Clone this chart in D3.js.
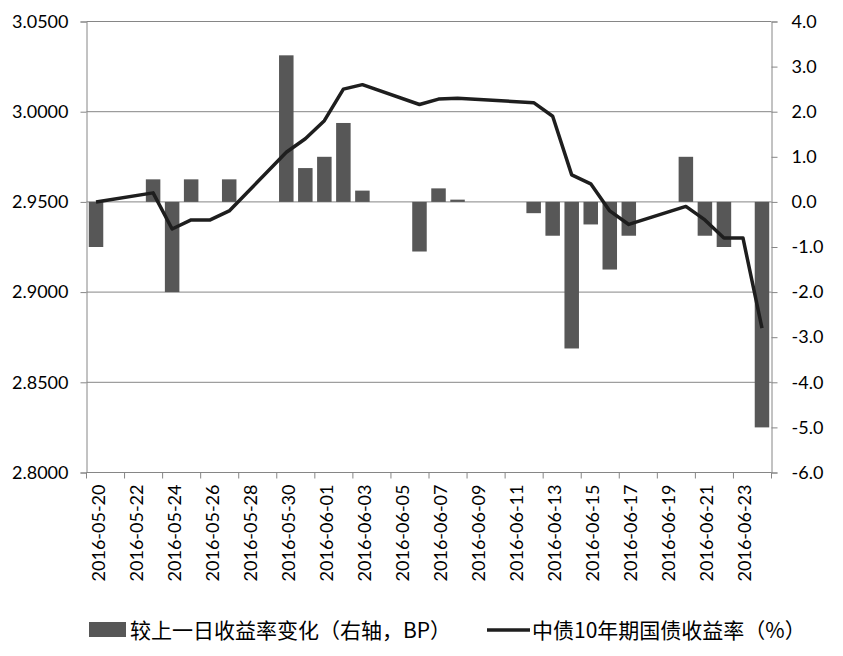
<!DOCTYPE html>
<html>
<head>
<meta charset="utf-8">
<script src="https://cdn.jsdelivr.net/npm/d3@7"></script>
<style>
  body { margin: 0; background: #fff; }
  svg { display: block; }
  .tick-label { font-family: Lato, "Open Sans", sans-serif; font-size: 18px; fill: #000; }
  .legend-text { font-family: "Noto Sans CJK SC", sans-serif; font-size: 21px; fill: #000; }
</style>
</head>
<body>
<div id="chart"></div>
<script>
// trading days shown in the chart
var tradeDates = ["2016-05-20","2016-05-23","2016-05-24","2016-05-25","2016-05-26","2016-05-27",
  "2016-05-30","2016-05-31","2016-06-01","2016-06-02","2016-06-03","2016-06-06","2016-06-07",
  "2016-06-08","2016-06-12","2016-06-13","2016-06-14","2016-06-15","2016-06-16","2016-06-17",
  "2016-06-20","2016-06-21","2016-06-22","2016-06-23","2016-06-24"];
// 中债10年期国债收益率 (%), left axis
var yields = [2.9500, 2.9550, 2.9350, 2.9400, 2.9400, 2.9450,
  2.9775, 2.9850, 2.9950, 3.0125, 3.0150, 3.0040, 3.0070,
  3.0075, 3.0050, 2.9975, 2.9650, 2.9600, 2.9450, 2.9375,
  2.9475, 2.9400, 2.9300, 2.9300, 2.8800];
// 较上一日收益率变化 (BP), right axis
var changes = [-1.0, 0.5, -2.0, 0.5, 0, 0.5,
  3.25, 0.75, 1.0, 1.75, 0.25, -1.1, 0.3,
  0.05, -0.25, -0.75, -3.25, -0.5, -1.5, -0.75,
  1.0, -0.75, -1.0, 0, -5.0];
var leftTicks = [2.80, 2.85, 2.90, 2.95, 3.00, 3.05];
var rightTicks = [-6, -5, -4, -3, -2, -1, 0, 1, 2, 3, 4];
var barLabel = "较上一日收益率变化（右轴，BP）";
var lineLabel = "中债10年期国债收益率（%）";

var width = 843, height = 656;
var margin = {left: 86.5, right: 843 - 771.5, top: 21.5, bottom: 656 - 472.5};
var plotW = width - margin.left - margin.right;
var plotH = height - margin.top - margin.bottom;

var fmt = d3.timeFormat("%Y-%m-%d");
var parse = d3.timeParse("%Y-%m-%d");
// date axis: every calendar day between first and last
var allDays = d3.timeDay.range(parse(tradeDates[0]), d3.timeDay.offset(parse(tradeDates[tradeDates.length - 1]), 1)).map(fmt);

var svg = d3.select("#chart").append("svg")
    .attr("width", width)
    .attr("height", height);

var g = svg.append("g").attr("transform", "translate(" + margin.left + "," + margin.top + ")");

var x = d3.scaleBand().domain(allDays).range([0, plotW]).paddingInner(0).paddingOuter(0);
var yL = d3.scaleLinear().domain([2.80, 3.05]).range([plotH, 0]);
var yR = d3.scaleLinear().domain([-6, 4]).range([plotH, 0]);

var gridColor = "#868686";
var hyphenMinus = function(f) { return function(d) { return f(d).replace("\u2212", "-"); }; };

// gridlines
g.selectAll(".grid").data(leftTicks.slice(1)).enter().append("line")
    .attr("x1", 0).attr("x2", plotW)
    .attr("y1", function(d) { return yL(d); })
    .attr("y2", function(d) { return yL(d); })
    .attr("stroke", gridColor).attr("stroke-width", 1);

// bars
var barW = 14.5;
g.selectAll(".bar").data(tradeDates).enter().append("rect")
    .attr("x", function(d) { return x(d) + x.bandwidth() / 2 - barW / 2; })
    .attr("y", function(d, i) { return yR(Math.max(0, changes[i])); })
    .attr("width", barW)
    .attr("height", function(d, i) { return Math.abs(yR(changes[i]) - yR(0)); })
    .attr("fill", "#575757");

// line
var line = d3.line()
    .x(function(d) { return x(d) + x.bandwidth() / 2; })
    .y(function(d, i) { return yL(yields[i]); });
g.append("path").datum(tradeDates)
    .attr("d", line)
    .attr("fill", "none")
    .attr("stroke", "#1e1e1e")
    .attr("stroke-width", 3.5)
    .attr("stroke-linejoin", "round");

// left axis
var axL = g.append("g").call(d3.axisLeft(yL).tickValues(leftTicks).tickFormat(d3.format(".4f")).tickSize(6).tickPadding(12));
axL.select(".domain").attr("stroke", gridColor);
axL.selectAll(".tick line").attr("stroke", gridColor);
axL.selectAll("text").attr("class", "tick-label").attr("fill", "#000");

// right axis
var axR = g.append("g").attr("transform", "translate(" + plotW + ",0)")
    .call(d3.axisRight(yR).tickValues(rightTicks).tickFormat(hyphenMinus(d3.format(".1f"))).tickSize(6).tickPadding(14));
axR.select(".domain").attr("stroke", gridColor);
axR.selectAll(".tick line").attr("stroke", gridColor);
axR.selectAll("text").attr("class", "tick-label").attr("fill", "#000");

// bottom axis: tick marks every two days, labels on every other day
var bottom = g.append("g").attr("transform", "translate(0," + plotH + ")");
bottom.append("line").attr("x1", 0).attr("x2", plotW).attr("stroke", gridColor);
var tickPos = allDays.filter(function(d, i) { return i % 2 == 0; }).map(function(d) { return x(d); });
tickPos.push(plotW);
bottom.selectAll(".xt").data(tickPos).enter().append("line")
    .attr("x1", function(d) { return d; }).attr("x2", function(d) { return d; })
    .attr("y1", 0).attr("y2", 6)
    .attr("stroke", gridColor);
bottom.selectAll(".xl").data(allDays.filter(function(d, i) { return i % 2 == 0; })).enter().append("text")
    .attr("class", "tick-label")
    .attr("transform", function(d) { return "translate(" + (x(d) + x.bandwidth() / 2 + 8.5) + ",12) rotate(-90)"; })
    .attr("text-anchor", "end")
    .text(function(d) { return d; });

// legend
var leg = svg.append("g");
leg.append("rect").attr("x", 89).attr("y", 622).attr("width", 37).attr("height", 15).attr("fill", "#575757");
leg.append("text").attr("class", "legend-text").attr("x", 130).attr("y", 638).text(barLabel);
leg.append("line").attr("x1", 487).attr("x2", 530).attr("y1", 630).attr("y2", 630)
    .attr("stroke", "#1e1e1e").attr("stroke-width", 3.5);
leg.append("text").attr("class", "legend-text").attr("x", 532).attr("y", 638).text(lineLabel);
</script>
</body>
</html>
